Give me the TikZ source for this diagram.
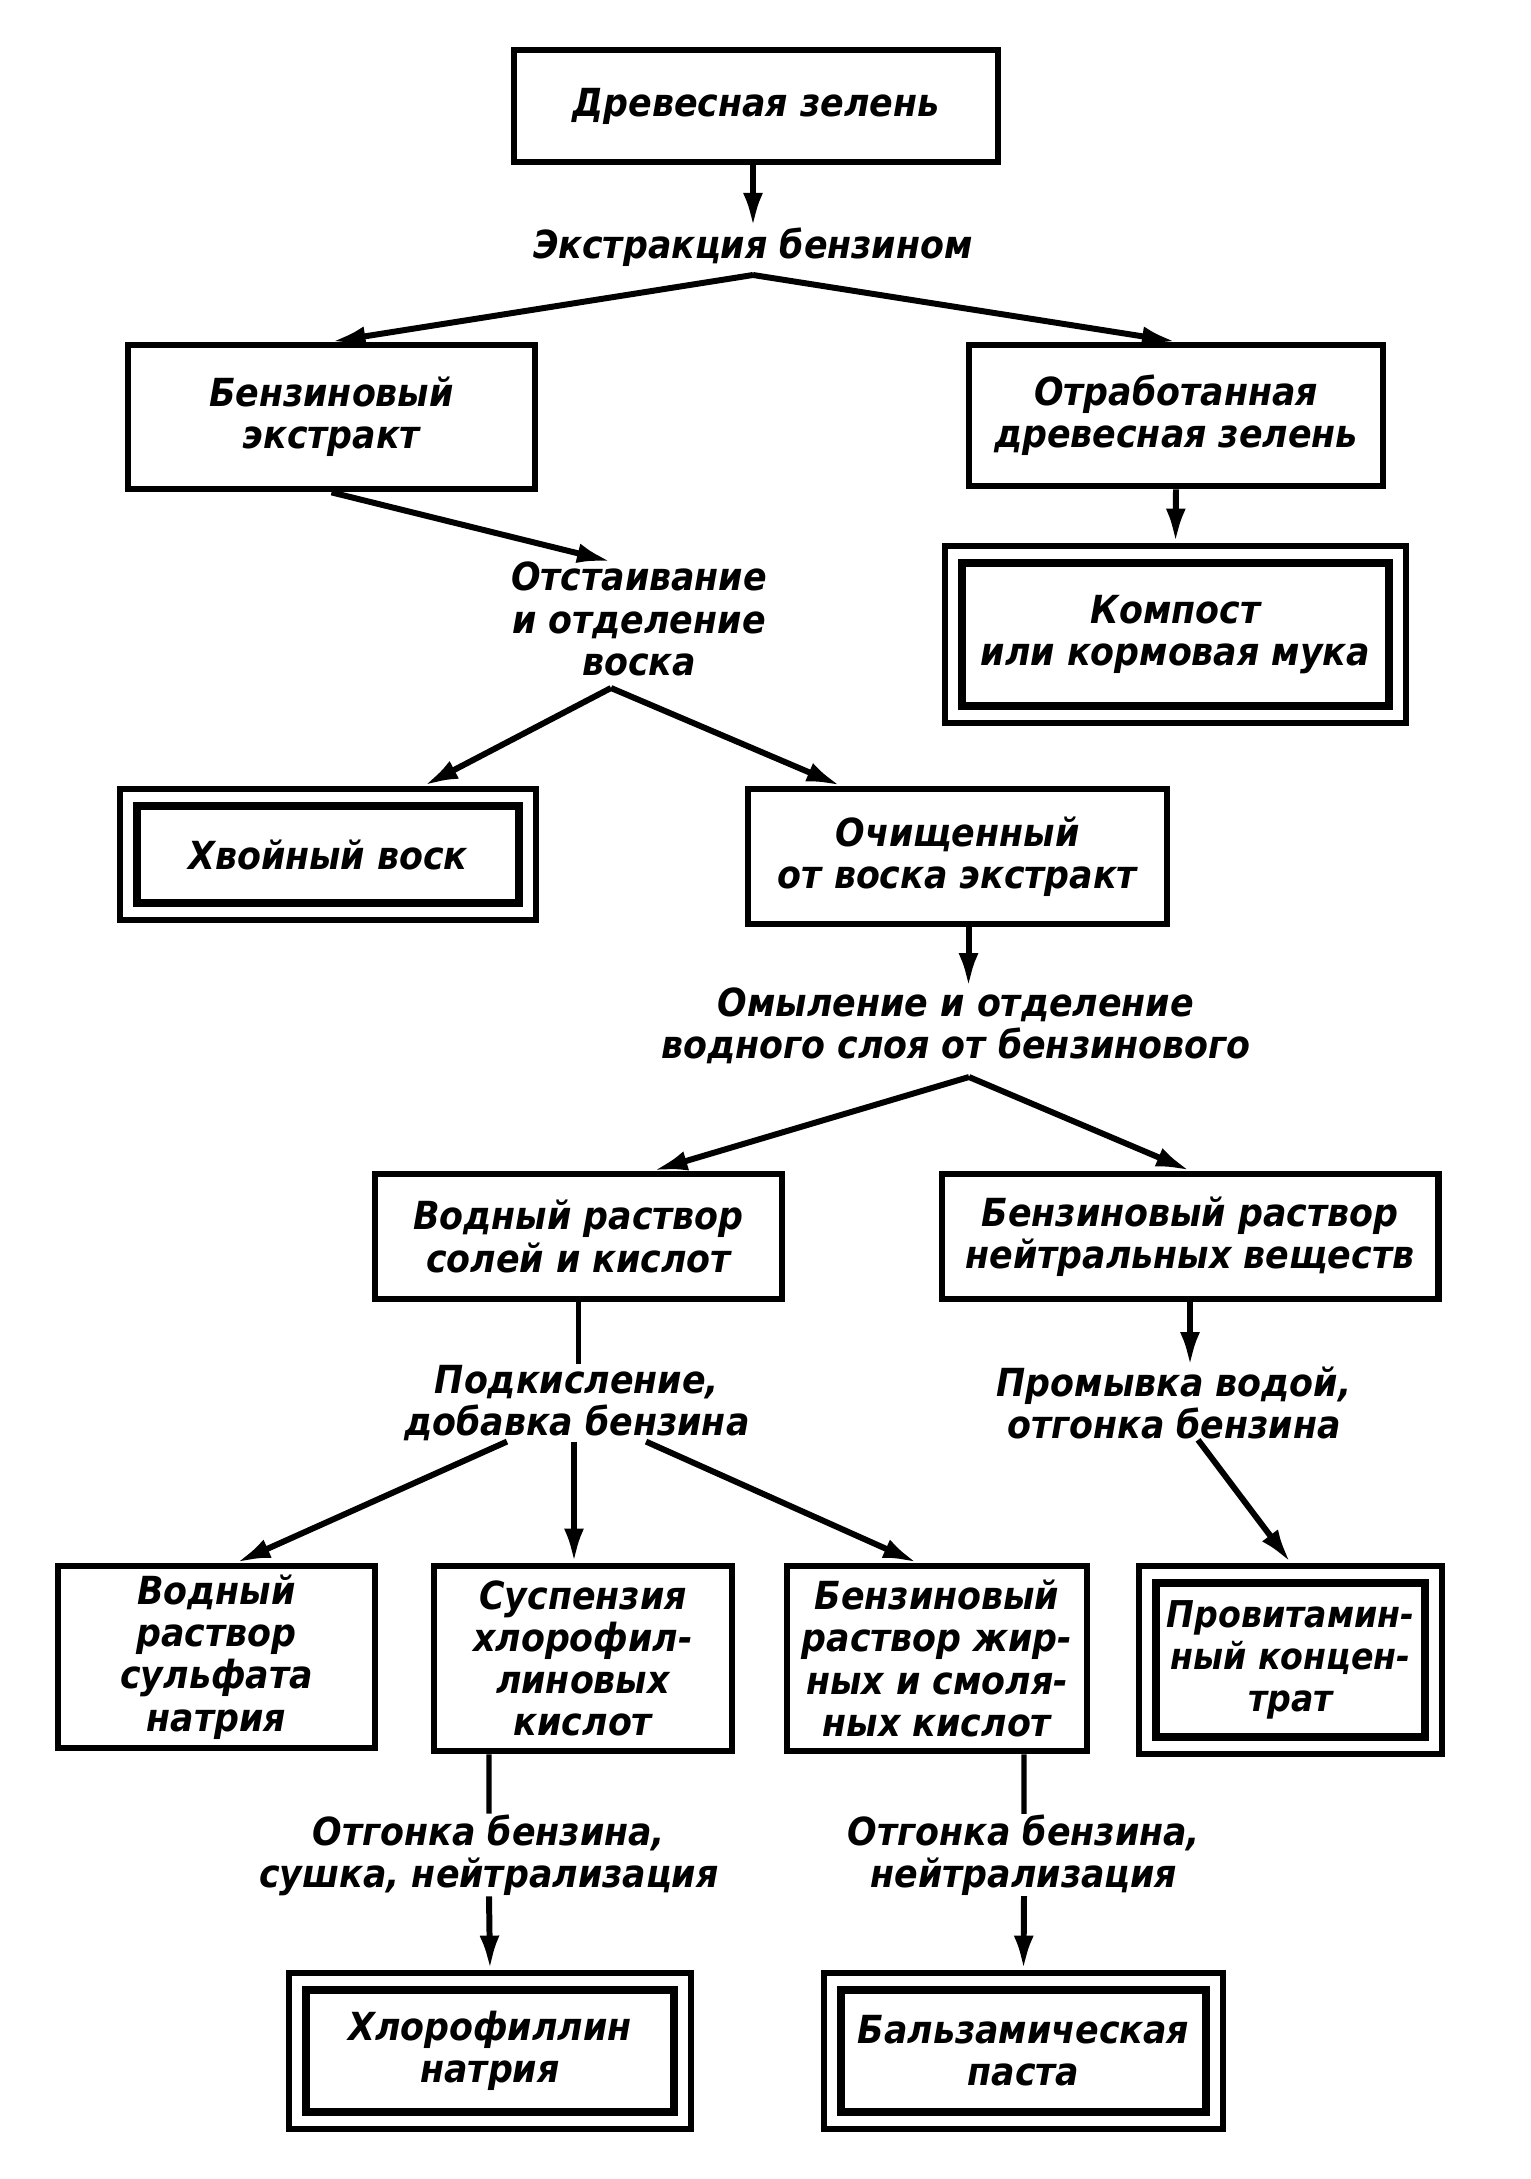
\documentclass[tikz,border=0pt]{standalone}
\usepackage{fontspec}
\setmainfont{DejaVu Sans Condensed}
\usetikzlibrary{arrows.meta}
\begin{document}
\begin{tikzpicture}[x=0.01cm,y=-0.01cm,
  txt/.style={font=\bfseries\itshape\fontsize{11}{12}\selectfont},
  box/.style={txt,draw,line width=1.9pt,inner sep=0pt,align=center},
  dbox/.style={box,path picture={\draw[line width=2.3pt]
      ([shift={(0.17cm,-0.17cm)}]path picture bounding box.north west) rectangle
      ([shift={(-0.17cm,0.17cm)}]path picture bounding box.south east);}},
  lbl/.style={txt,inner sep=0pt,align=center},
  arr/.style={line width=1.7pt,-{Latex[length=0.34cm,width=0.2cm]}},
  ln/.style={line width=1.5pt}]
\fill[white] (0,0) rectangle (1530,2179);
\useasboundingbox (0,0) rectangle (1530,2179);

% boxes
\node[box,minimum width=4.84cm,minimum height=1.12cm] (b1) at (756,106) {Древесная зелень};
\node[lbl] (t1) at (753,247) {Экстракция бензином};
\node[box,minimum width=4.07cm,minimum height=1.44cm] (b2) at (331.5,417) {Бензиновый\\экстракт};
\node[box,minimum width=4.14cm,minimum height=1.41cm] (b3) at (1176,415.5) {Отработанная\\древесная зелень};
\node[dbox,minimum width=4.61cm,minimum height=1.77cm] (b4) at (1175.5,634.5) {Компост\\или кормовая мука};
\node[lbl] (t2) at (639,619) {Отстаивание\\и отделение\\воска};
\node[dbox,minimum width=4.16cm,minimum height=1.31cm] (b5) at (328,854.5) {Хвойный воск};
\node[box,minimum width=4.19cm,minimum height=1.35cm] (b6) at (957.5,856.5) {Очищенный\\от воска экстракт};
\node[lbl] (t3) at (956,1026) {Омыление и отделение\\водного слоя от бензинового};
\node[box,minimum width=4.07cm,minimum height=1.25cm] (b7) at (578.5,1236.5) {Водный раствор\\солей и кислот};
\node[box,minimum width=4.96cm,minimum height=1.25cm] (b8) at (1190,1236.5) {Бензиновый раствор\\нейтральных веществ};
\node[lbl] (t4) at (577,1403) {Подкисление,\\добавка бензина};
\node[lbl] (t5) at (1174,1403) {Промывка водой,\\отгонка бензина};
\node[box,minimum width=3.17cm,minimum height=1.82cm] (b9) at (216.5,1657) {Водный\\раствор\\сульфата\\натрия};
\node[box,minimum width=2.98cm,minimum height=1.85cm] (b10) at (583,1658.5) {Суспензия\\хлорофил-\\линовых\\кислот};
\node[box,minimum width=3.00cm,minimum height=1.85cm] (b11) at (937,1658.5) {Бензиновый\\раствор жир-\\ных и смоля-\\ных кислот};
\node[dbox,minimum width=3.03cm,minimum height=1.88cm,font=\bfseries\itshape\fontsize{10.5}{12}\selectfont] (b12) at (1290.5,1660) {Провитамин-\\ный концен-\\трат};
\node[lbl] (t6) at (489,1855) {Отгонка бензина,\\сушка, нейтрализация};
\node[lbl] (t7) at (1024,1855) {Отгонка бензина,\\нейтрализация};
\node[dbox,minimum width=4.02cm,minimum height=1.56cm] (b13) at (490,2051) {Хлорофиллин\\натрия};
\node[dbox,minimum width=3.99cm,minimum height=1.56cm] (b14) at (1023.5,2051) {Бальзамическая\\паста};

% split points
\coordinate (s1) at (753,275);
\coordinate (s2) at (611,688);
\coordinate (s3) at (969,1077);

% connectors
\draw[arr] ([xshift=-0.03cm]b1.south) -- ([xshift=-0.03cm]b1.south |- t1.north);
\draw[arr] (s1) -- (b2.north);
\draw[arr] (s1) -- (b3.north);
\draw[arr] (b3.south) -- (b4.north);
\draw[arr] (b2.south) -- ([xshift=-0.28cm]t2.north);
\draw[arr] (s2) -- ([xshift=0.96cm]b5.north);
\draw[arr] (s2) -- ([xshift=-1.17cm]b6.north);
\draw[arr] ([xshift=0.11cm]b6.south) -- ([xshift=0.11cm]b6.south |- t3.north);
\draw[arr] (s3) -- ([xshift=0.75cm]b7.north);
\draw[arr] (s3) -- (b8.north);
\draw[ln] (b7.south) -- (b7.south |- t4.north);
\draw[arr] ([xshift=-0.7cm]t4.south) -- ([xshift=0.2cm]b9.north);
\draw[arr] ([xshift=-0.09cm]b10.north |- t4.south) -- ([xshift=-0.09cm]b10.north);
\draw[arr] ([xshift=0.69cm]t4.south) -- ([xshift=-0.2cm]b11.north);
\draw[arr] (b8.south) -- (b8.south |- t5.north);
\draw[arr] ([xshift=0.24cm]t5.south) -- (b12.north);
\draw[ln] ([xshift=-0.94cm]b10.south) -- (t6.north);
\draw[arr] (t6.south) -- (b13.north);
\draw[ln] ([xshift=0.87cm]b11.south) -- (t7.north);
\draw[arr] (t7.south) -- (b14.north);
\end{tikzpicture}
\end{document}
